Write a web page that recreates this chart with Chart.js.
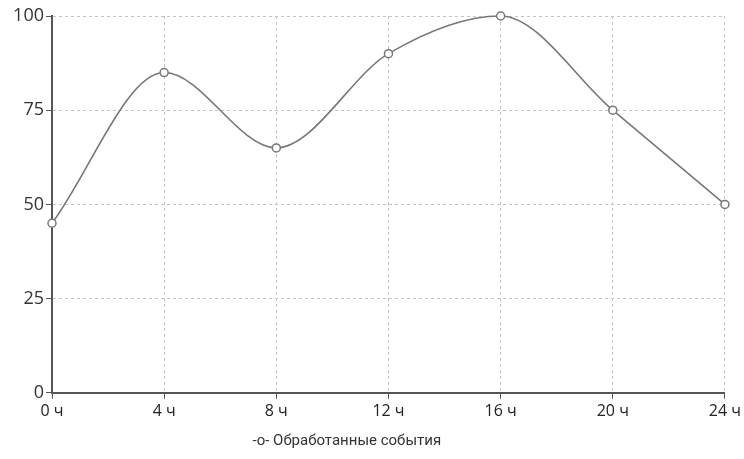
<!DOCTYPE html>
<html lang="ru">
<head>
    <meta charset="UTF-8">
    <title>Обработанные события</title>
    <script src="https://cdn.jsdelivr.net/npm/chart.js@4.4.1/dist/chart.umd.min.js"></script>
    <style>
        body { margin: 0; background: #fff; }
    </style>
</head>
<body>
    <div style="position: relative; width: 744px; height: 459px">
        <canvas id="chart"></canvas>
    </div>
    <script>
    const hours = ['0 ч', '4 ч', '8 ч', '12 ч', '16 ч', '20 ч', '24 ч']
    const processed = [45, 85, 65, 90, 100, 75, 50]
    const seriesName = 'Обработанные события'

    const ctx = document.getElementById('chart').getContext('2d');
    const myChart = new Chart(ctx, {
        type: 'line',
        data: {
            labels: hours,
            datasets: [{
                label: seriesName,
                data: processed,
                borderColor: '#777',
                borderWidth: 1.6,
                backgroundColor: '#fff',
                pointBackgroundColor: '#fff',
                pointBorderColor: '#777',
                pointBorderWidth: 1.5,
                pointRadius: 4,
                cubicInterpolationMode: 'monotone',
                clip: false,
                fill: false
            }]
        },
        options: {
            responsive: true,
            maintainAspectRatio: false,
            animation: false,
            layout: { padding: { top: 16, right: 2 } },
            plugins: {
                tooltip: { enabled: false },
                legend: {
                    position: 'bottom',
                    align: 'start',
                    labels: {
                        font: { family: 'Roboto', size: 15 },
                        color: '#333',
                        boxWidth: 235,
                        boxHeight: 1,
                        generateLabels: chart => chart.data.datasets.map((ds, i) => ({
                            text: '-o- ' + ds.label,
                            fillStyle: 'rgba(0,0,0,0)',
                            strokeStyle: 'rgba(0,0,0,0)',
                            lineWidth: 0,
                            fontColor: '#333',
                            datasetIndex: i
                        }))
                    }
                }
            },
            scales: {
                x: {
                    offset: false,
                    border: { color: '#555', width: 2, dash: [3, 3] },
                    grid: {
                        color: '#c4c4c4',
                        tickBorderDash: [],
                        tickColor: '#555',
                        tickLength: 6
                    },
                    ticks: {
                        color: '#222',
                        font: { family: 'Open Sans', size: 16 },
                        maxRotation: 0
                    }
                },
                y: {
                    min: 0,
                    max: 100,
                    afterFit: scale => { scale.width = 52 },
                    border: { color: '#555', width: 2, dash: [3, 3] },
                    grid: {
                        color: '#c4c4c4',
                        tickBorderDash: [],
                        tickColor: '#555',
                        tickLength: 6
                    },
                    ticks: {
                        stepSize: 25,
                        color: '#333',
                        padding: 2,
                        font: { family: 'Open Sans', size: 18 }
                    }
                }
            }
        }
    });
    </script>
</body>
</html>
